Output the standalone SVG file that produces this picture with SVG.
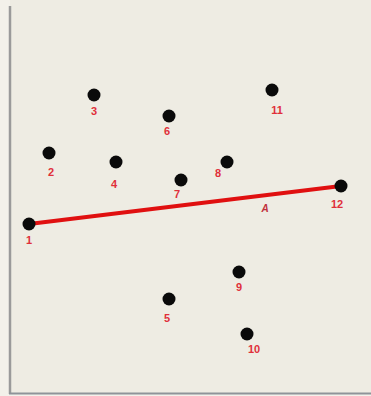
<svg xmlns="http://www.w3.org/2000/svg" width="371" height="396" viewBox="0 0 371 396">
<style>
.dot{fill:#0a0a0a}
.lbl{font-family:"Liberation Sans",Arial,sans-serif;font-size:11px;font-weight:bold;fill:#e0303a;text-anchor:middle}
</style>
<rect x="0" y="0" width="371" height="396" fill="#f3f1ea"/>
<rect x="10" y="0" width="361" height="393" fill="#eeece3"/>
<line x1="10" y1="6" x2="10" y2="394" stroke="#9a9a9a" stroke-width="2.5"/>
<line x1="9" y1="393.5" x2="371" y2="393.5" stroke="#8e9499" stroke-width="2"/>
<g id="connectors">
<line x1="29" y1="224" x2="341" y2="186" stroke="#e01010" stroke-width="4"/>
<text x="265" y="212" font-family="Liberation Sans,Arial,sans-serif" font-size="10" font-style="italic" font-weight="bold" fill="#c0303a" text-anchor="middle">A</text>
</g>
<g id="n1"><circle class="dot" cx="29" cy="224" r="6.5"/><text class="lbl" x="29" y="244">1</text></g>
<g id="n2"><circle class="dot" cx="49" cy="153" r="6.5"/><text class="lbl" x="51" y="176">2</text></g>
<g id="n3"><circle class="dot" cx="94" cy="95" r="6.5"/><text class="lbl" x="94" y="115">3</text></g>
<g id="n4"><circle class="dot" cx="116" cy="162" r="6.5"/><text class="lbl" x="114" y="188">4</text></g>
<g id="n5"><circle class="dot" cx="169" cy="299" r="6.5"/><text class="lbl" x="167" y="322">5</text></g>
<g id="n6"><circle class="dot" cx="169" cy="116" r="6.5"/><text class="lbl" x="167" y="135">6</text></g>
<g id="n7"><circle class="dot" cx="181" cy="180" r="6.5"/><text class="lbl" x="177" y="198">7</text></g>
<g id="n8"><circle class="dot" cx="227" cy="162" r="6.5"/><text class="lbl" x="218" y="177">8</text></g>
<g id="n9"><circle class="dot" cx="239" cy="272" r="6.5"/><text class="lbl" x="239" y="291">9</text></g>
<g id="n10"><circle class="dot" cx="247" cy="334" r="6.5"/><text class="lbl" x="254" y="353">10</text></g>
<g id="n11"><circle class="dot" cx="272" cy="90" r="6.5"/><text class="lbl" x="277" y="114">11</text></g>
<g id="n12"><circle class="dot" cx="341" cy="186" r="6.5"/><text class="lbl" x="337" y="208">12</text></g>
</svg>
